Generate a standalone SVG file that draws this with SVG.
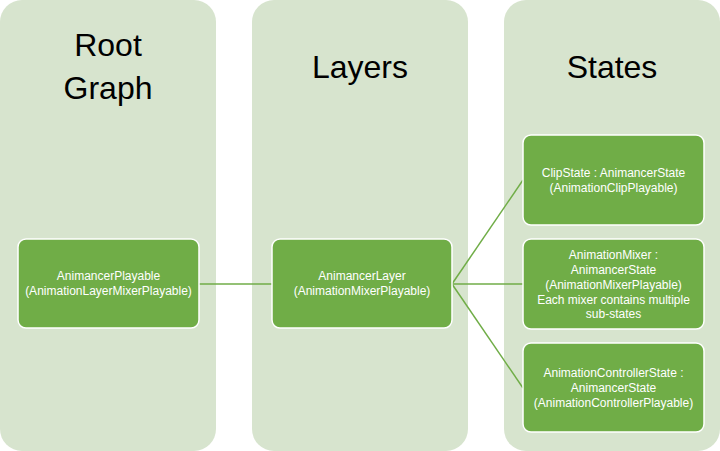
<svg xmlns="http://www.w3.org/2000/svg" width="720" height="451" viewBox="0 0 720 451">
<style>
.col{fill:#D7E4CE;}
.title{font-family:"Liberation Sans",Arial,sans-serif;font-size:32px;fill:#000;text-anchor:middle;}
.node rect{fill:#70AD47;stroke:#FFFFFF;stroke-width:1.5;}
.node text{font-family:"Liberation Sans",Arial,sans-serif;font-size:12px;fill:#FFFFFF;text-anchor:middle;}
.conn{stroke:#70AD47;stroke-width:1.5;fill:none;}
</style>
<rect width="720" height="451" fill="#FFFFFF"/>
<g id="columns">
<rect class="col" x="0" y="0" width="216" height="451" rx="22" ry="22"/>
<rect class="col" x="252" y="0" width="216" height="451" rx="22" ry="22"/>
<rect class="col" x="504" y="0" width="216" height="451" rx="22" ry="22"/>
<text class="title" x="108" y="56">Root</text>
<text class="title" x="108" y="99">Graph</text>
<text class="title" x="360" y="78">Layers</text>
<text class="title" x="612" y="78">States</text>
</g>
<g id="connectors">
<line class="conn" x1="199" y1="284" x2="272" y2="284"/>
<line class="conn" x1="452" y1="284" x2="523" y2="180"/>
<line class="conn" x1="452" y1="284" x2="523" y2="284"/>
<line class="conn" x1="452" y1="284" x2="523" y2="388"/>
</g>
<g id="animancerPlayable" class="node">
<rect x="18" y="239" width="181" height="89" rx="8" ry="8"/>
<text x="108.5" y="280">AnimancerPlayable</text>
<text x="108.5" y="295">(AnimationLayerMixerPlayable)</text>
</g>
<g id="animancerLayer" class="node">
<rect x="272" y="239" width="180" height="89" rx="8" ry="8"/>
<text x="362" y="280">AnimancerLayer</text>
<text x="362" y="295">(AnimationMixerPlayable)</text>
</g>
<g id="clipState" class="node">
<rect x="523" y="135" width="181" height="90" rx="8" ry="8"/>
<text x="613.5" y="177">ClipState : AnimancerState</text>
<text x="613.5" y="192">(AnimationClipPlayable)</text>
</g>
<g id="animationMixer" class="node">
<rect x="523" y="239" width="181" height="90" rx="8" ry="8"/>
<text x="613.5" y="259">AnimationMixer :</text>
<text x="613.5" y="274">AnimancerState</text>
<text x="613.5" y="289">(AnimationMixerPlayable)</text>
<text x="613.5" y="304">Each mixer contains multiple</text>
<text x="613.5" y="318">sub-states</text>
</g>
<g id="animationControllerState" class="node">
<rect x="523" y="343" width="181" height="89" rx="8" ry="8"/>
<text x="613.5" y="377">AnimationControllerState :</text>
<text x="613.5" y="392">AnimancerState</text>
<text x="613.5" y="407">(AnimationControllerPlayable)</text>
</g>
</svg>
